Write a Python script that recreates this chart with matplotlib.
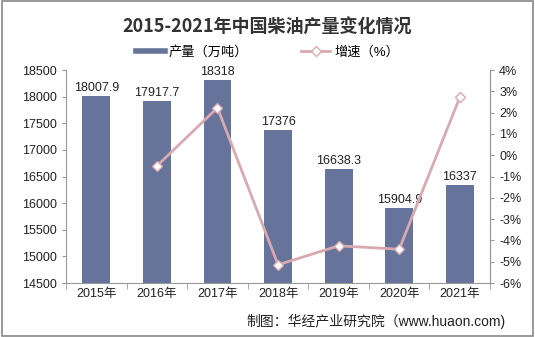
import matplotlib
matplotlib.use("Agg")
import matplotlib.pyplot as plt
from matplotlib.patches import Rectangle
from matplotlib.lines import Line2D

plt.rcParams['font.family'] = ['Liberation Sans', 'Noto Sans CJK SC', 'DejaVu Sans']

years = ["2015年", "2016年", "2017年", "2018年", "2019年", "2020年", "2021年"]
output = [18007.9, 17917.7, 18318, 17376, 16638.3, 15904.9, 16337]
growth = [None, -0.50, 2.23, -5.14, -4.25, -4.41, 2.72]

bar_color = "#66739B"
line_color = "#D9A9B0"

fig = plt.figure(figsize=(5.35, 3.37), dpi=100)
fig.patches.append(Rectangle((0.004, 0.004), 0.992, 0.992, transform=fig.transFigure,
                             fill=False, edgecolor="#888888", linewidth=1.2))

ax = fig.add_axes([0.1234, 0.160, 0.7926, 0.632])
x = list(range(len(years)))
ax.bar(x, output, width=0.46, color=bar_color, zorder=2)
ax.set_ylim(14500, 18500)
ax.set_yticks(range(14500, 18501, 500))
ax.set_xlim(-0.5, len(years) - 0.5)
ax.set_xticks(x)
ax.set_xticklabels(years)
for xi, v in zip(x, output):
    ax.text(xi, v + 40, f"{v:g}", ha="center", va="bottom", fontsize=9, color="#222222")

ax.spines["top"].set_visible(False)
for s in ["left", "bottom", "right"]:
    ax.spines[s].set_color("#999999")
ax.tick_params(axis="both", labelsize=9, colors="#999999", labelcolor="#222222", length=3)
ax.set_xticks([i + 0.5 for i in range(-1, len(years))], minor=True)
ax.tick_params(axis="x", which="major", length=0)
ax.tick_params(axis="x", which="minor", length=4, colors="#999999")

ax2 = ax.twinx()
gx = [i for i, g in zip(x, growth) if g is not None]
gy = [g for g in growth if g is not None]
ax2.plot(gx, gy, color=line_color, linewidth=2, marker="D", markersize=5,
         markerfacecolor="white", markeredgecolor=line_color, markeredgewidth=1, zorder=3)
ax2.set_ylim(-6, 4)
ax2.set_yticks(range(-6, 5))
ax2.set_yticklabels([f"{t}%" for t in range(-6, 5)])
ax2.spines["top"].set_visible(False)
ax2.spines["left"].set_visible(False)
ax2.spines["bottom"].set_visible(False)
ax2.spines["right"].set_color("#999999")
ax2.tick_params(axis="y", labelsize=9, colors="#999999", labelcolor="#222222", length=3)

fig.text(0.5, 0.918, "2015-2021年中国柴油产量变化情况", ha="center", va="center",
         fontsize=13, fontweight="bold", color="#333333", family=['Noto Sans CJK SC'])

handles = [Line2D([0], [0], color=bar_color, linewidth=4),
           Line2D([0], [0], color=line_color, linewidth=2, marker="D", markersize=5,
                  markerfacecolor="white", markeredgecolor=line_color)]
fig.legend(handles, ["产量（万吨）", "增速（%）"], loc="center", bbox_to_anchor=(0.5, 0.845),
           ncol=2, frameon=False, fontsize=9.5, handlelength=2.2, columnspacing=4, handletextpad=0.3)

fig.text(0.945, 0.045, "制图：华经产业研究院（www.huaon.com)", ha="right", va="center",
         fontsize=10, color="#222222")

fig.savefig("out.png", dpi=100)
